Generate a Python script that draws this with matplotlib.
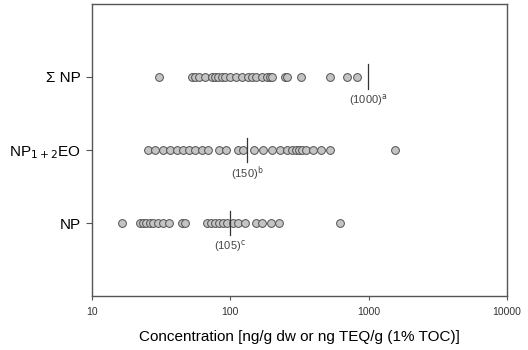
import matplotlib
matplotlib.use("Agg")
import matplotlib.pyplot as plt
from matplotlib.ticker import NullLocator, FixedLocator

plt.rcParams['font.family'] = ['Liberation Sans', 'DejaVu Sans']

categories = ["NP", "NP$_{1+2}$EO", "Σ NP"]

np_vals = [16.5, 22.2, 23.4, 24.5, 26.2, 27.6, 30.0, 32.6, 36.0, 44.6, 46.9,
           67.7, 72.3, 77.3, 82.6, 88.3, 94.4, 104.2, 113.3, 127.4, 152.8,
           168.8, 196, 224, 618]
np12eo_vals = [25.4, 28.5, 32.6, 36.6, 41.1, 45.4, 50.2, 55.4, 62.2, 68.8,
               82.6, 92.9, 113.3, 123, 147.9, 171.8, 199.5, 227.7, 255.6, 278,
               297, 312.4, 328, 351, 394, 450, 523, 1541]
sum_np_vals = [30.5, 52.7, 55.4, 59.2, 65.5, 73.5, 77.3, 81.3, 86.8, 91.3, 99,
               109.6, 121, 133.7, 143, 152.8, 168.8, 183.5, 192.8, 199.5,
               247.5, 256, 322.6, 522.8, 693, 819]

series = [np_vals, np12eo_vals, sum_np_vals]
median_pos = [100, 132, 990]
median_labels = ["(105)$^{\\rm c}$", "(150)$^{\\rm b}$", "(1000)$^{\\rm a}$"]

xticks = [10, 100, 1000, 10000]
xticklabels = ["10", "100", "1000", "10000"]

fig = plt.figure(figsize=(5.28, 3.5), dpi=100)
ax = fig.add_axes([0.174, 0.154, 0.786, 0.835])

for i, vals in enumerate(series):
    y = i + 1
    ax.plot(vals, [y] * len(vals), linestyle='none', marker='o',
            markersize=5.6, markerfacecolor='#c4c4c4',
            markeredgecolor='#505050', markeredgewidth=0.7, zorder=3)
    ax.plot([median_pos[i], median_pos[i]], [y - 0.17, y + 0.17],
            color='#333333', linewidth=0.9, zorder=4)
    ax.text(median_pos[i], y - 0.32, median_labels[i], ha='center',
            va='center', fontsize=8, color='#444444')

ax.set_xscale('log')
ax.set_xlim(10, 10000)
ax.set_ylim(0, 4)
ax.xaxis.set_major_locator(FixedLocator(xticks))
ax.set_xticklabels(xticklabels)
ax.xaxis.set_minor_locator(NullLocator())
ax.set_yticks([1, 2, 3])
ax.set_yticklabels(categories, fontsize=11)
ax.tick_params(axis='x', labelsize=7.5, colors='#555555', length=3,
               width=0.8, pad=5)
ax.tick_params(axis='x', labelcolor='#333333')
ax.tick_params(axis='y', length=4, width=0.8, color='#555555', pad=4)
for sp in ax.spines.values():
    sp.set_color('#555555')
    sp.set_linewidth(1.0)

ax.set_xlabel("Concentration [ng/g dw or ng TEQ/g (1% TOC)]", fontsize=11,
              labelpad=9)

fig.savefig("out.png", dpi=100)
